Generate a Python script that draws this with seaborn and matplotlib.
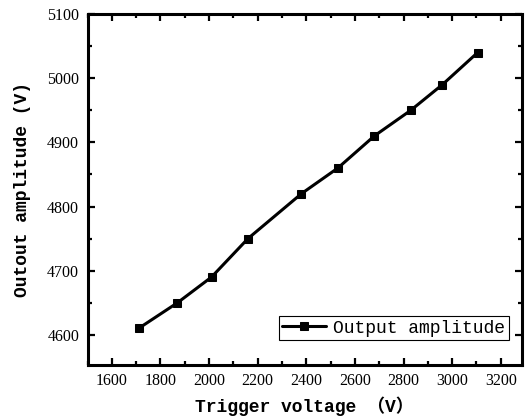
import matplotlib
matplotlib.use("Agg")
import matplotlib.pyplot as plt
import seaborn as sns
import pandas as pd
from matplotlib.ticker import MultipleLocator

trigger_voltage = [1710, 1870, 2010, 2160, 2380, 2530, 2680, 2830, 2960, 3105]
output_amplitude = [4610, 4650, 4690, 4750, 4820, 4860, 4910, 4950, 4990, 5040]
series_name = "Output amplitude"
x_label = "Trigger voltage （V）"
y_label = "Outout amplitude (V)"

df = pd.DataFrame({"x": trigger_voltage, "y": output_amplitude, "s": series_name})

sns.set_style("ticks")
plt.rcParams["font.family"] = ["Liberation Serif", "DejaVu Sans"]
plt.rcParams.update({"text.color": "black", "axes.labelcolor": "black",
                     "xtick.color": "black", "ytick.color": "black"})

fig = plt.figure(figsize=(5.26, 4.18), dpi=100)
ax = fig.add_axes([0.1664, 0.1268, 0.8254, 0.8397])

sns.lineplot(data=df, x="x", y="y", hue="s", palette=["black"], marker="s",
             markersize=5.5, linewidth=2.2, markeredgecolor="black", ax=ax)

ax.set_xlim(1500, 3286)
ax.set_ylim(4553, 5100)
ax.xaxis.set_major_locator(MultipleLocator(200))
ax.xaxis.set_minor_locator(MultipleLocator(100))
ax.yaxis.set_major_locator(MultipleLocator(100))
ax.yaxis.set_minor_locator(MultipleLocator(50))

for sp in ax.spines.values():
    sp.set_linewidth(2.2)
    sp.set_color("black")
    sp.set_visible(True)

ax.tick_params(which="both", direction="in", top=True, right=True, color="black",
               labelcolor="black")
ax.tick_params(which="major", length=5, width=1.6, labelsize=11.5, pad=6)
ax.tick_params(which="minor", length=3, width=1.6)

mono = ["Liberation Mono", "Noto Sans CJK SC", "DejaVu Sans"]
ax.set_xlabel(x_label, fontsize=13, family=mono, fontweight="bold", labelpad=5,
              color="black")
ax.set_ylabel(y_label, fontsize=13, family=mono, fontweight="bold", labelpad=12,
              color="black")

leg = ax.legend(loc="lower right", bbox_to_anchor=(0.97, 0.07), frameon=True,
                fancybox=False, edgecolor="black", framealpha=1,
                prop={"family": mono, "size": 13}, handlelength=2.4,
                borderpad=0.2, handletextpad=0.4, borderaxespad=0)
for t in leg.get_texts():
    t.set_color("black")
leg.get_frame().set_linewidth(0.8)
leg.set_title(None)

fig.savefig("out.png", dpi=100)
